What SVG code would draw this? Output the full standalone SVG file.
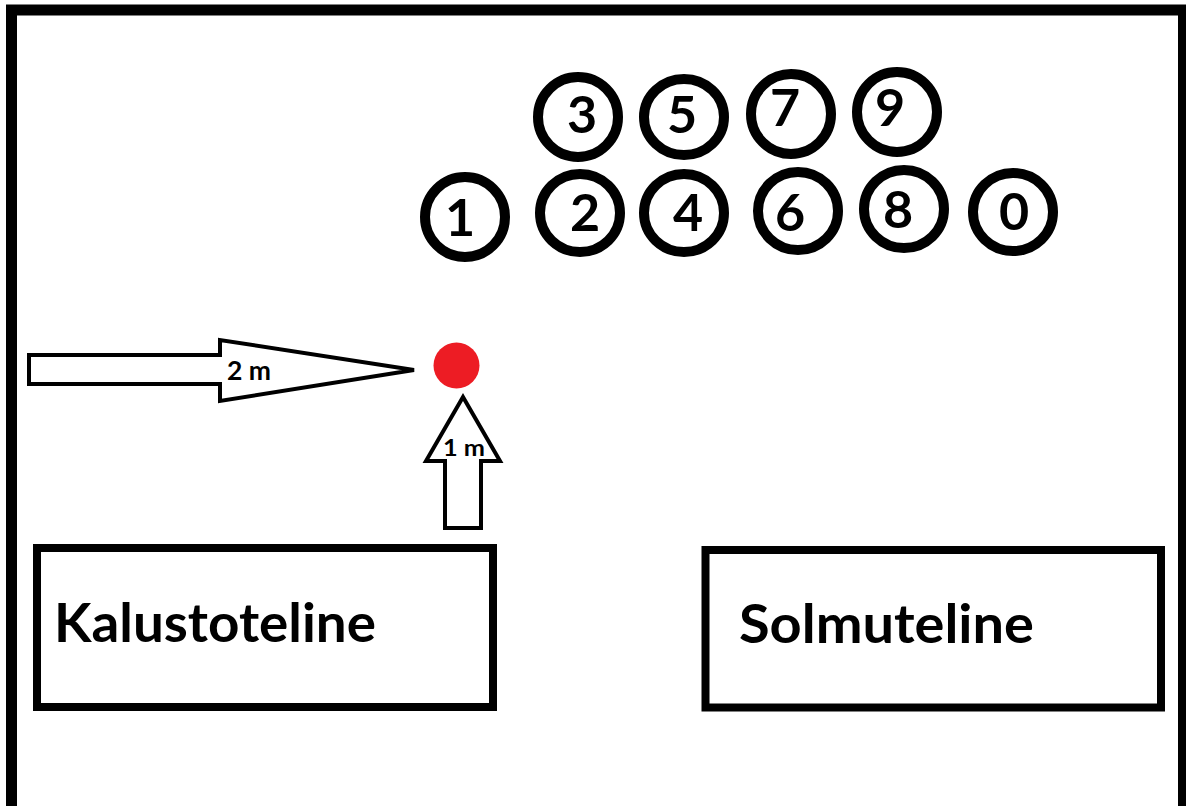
<svg xmlns="http://www.w3.org/2000/svg" width="1186" height="806" viewBox="0 0 1186 806">
  <style>
    .frame { fill: none; stroke: #000; stroke-width: 11; }
    .box { fill: #fff; stroke: #000; stroke-width: 8; }
    .spot { fill: #fff; stroke: #000; stroke-width: 10; }
    .num { font-family: Lato, "Liberation Sans", sans-serif; font-weight: bold; font-size: 52px; fill: #000; text-anchor: middle; }
    .label { font-family: Lato, "Liberation Sans", sans-serif; font-weight: bold; font-size: 53px; fill: #000; }
    .arrow { fill: #fff; stroke: #000; stroke-width: 4; stroke-linejoin: miter; }
    .alabel { font-family: Lato, "Liberation Sans", sans-serif; font-weight: bold; fill: #000; }
  </style>
  <rect x="0" y="0" width="1186" height="806" fill="#fff"/>
  <path class="frame" d="M11.5,806 V10 H1183.5 V806"/>

  <g id="spot-3"><ellipse class="spot" cx="578" cy="117" rx="40" ry="40"/><text class="num" x="582" y="133">3</text></g>
  <g id="spot-5"><ellipse class="spot" cx="684" cy="117" rx="40" ry="38"/><text class="num" x="682" y="133">5</text></g>
  <g id="spot-7"><ellipse class="spot" cx="791" cy="114" rx="40" ry="40"/><text class="num" x="785" y="126">7</text></g>
  <g id="spot-9"><ellipse class="spot" cx="897" cy="112" rx="40" ry="40"/><text class="num" x="890" y="126">9</text></g>
  <g id="spot-1"><ellipse class="spot" cx="465" cy="217" rx="40" ry="40"/><text class="num" x="460" y="236">1</text></g>
  <g id="spot-2"><ellipse class="spot" cx="580" cy="213" rx="40" ry="39"/><text class="num" x="585" y="231">2</text></g>
  <g id="spot-4"><ellipse class="spot" cx="684" cy="213" rx="40" ry="39"/><text class="num" x="688" y="231">4</text></g>
  <g id="spot-6"><ellipse class="spot" cx="798" cy="211" rx="40" ry="39"/><text class="num" x="790" y="231">6</text></g>
  <g id="spot-8"><ellipse class="spot" cx="904" cy="209" rx="40" ry="39"/><text class="num" x="898" y="228">8</text></g>
  <g id="spot-0"><ellipse class="spot" cx="1013" cy="212" rx="40" ry="39"/><text class="num" x="1014" y="230">0</text></g>

  <g id="target"><circle cx="456.5" cy="365.5" r="23" fill="#ed1c24"/></g>

  <g id="connectors">
    <polygon class="arrow" points="29,355 220,355 220,340 414,370 220,401 220,384 29,384"/>
    <text class="alabel" x="227" y="380" font-size="27" textLength="44" lengthAdjust="spacingAndGlyphs">2 m</text>
    <polygon class="arrow" points="463,397 500,461 481,461 481,528 445,528 445,461 426,461"/>
    <text class="alabel" x="443" y="456" font-size="23" textLength="42" lengthAdjust="spacingAndGlyphs">1 m</text>
  </g>

  <g id="kalustoteline">
    <rect class="box" x="37" y="548" width="456" height="159"/>
    <text class="label" x="54" y="642" textLength="322" lengthAdjust="spacingAndGlyphs">Kalustoteline</text>
  </g>
  <g id="solmuteline">
    <rect class="box" x="705.5" y="550" width="455.5" height="157.5"/>
    <text class="label" x="739" y="643" textLength="295" lengthAdjust="spacingAndGlyphs">Solmuteline</text>
  </g>
</svg>
